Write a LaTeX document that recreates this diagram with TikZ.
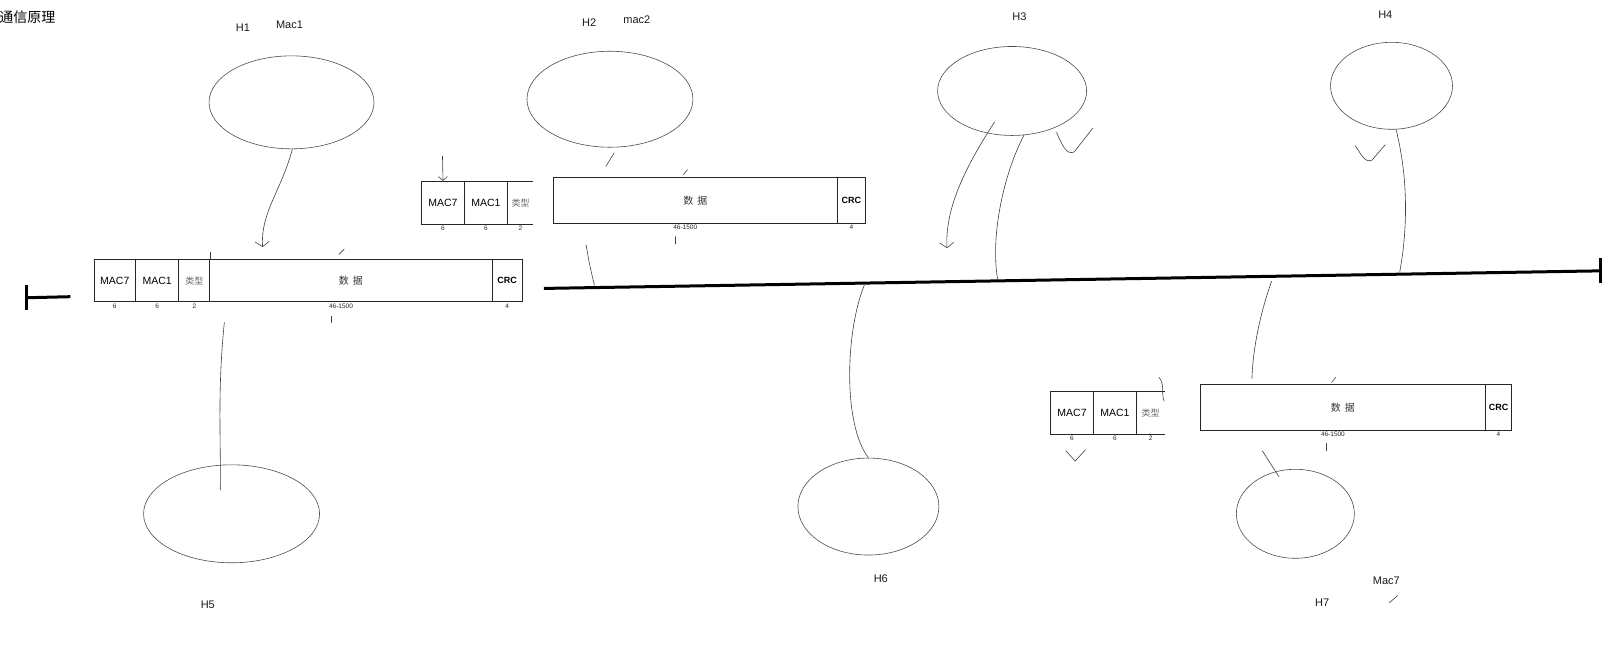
\documentclass[tikz,border=0pt]{standalone}
\usepackage{fontspec}
\setmainfont{Liberation Sans}
\newfontfamily\cjk{Noto Sans CJK SC}
\usetikzlibrary{positioning, arrows.meta, shapes.geometric}

\begin{document}
\begin{tikzpicture}[
  x=1.034pt, y=-1.034pt,
  host/.style={draw=black!70, line width=0.6pt, ellipse, inner sep=0pt},
  hand/.style={draw=black!75, line width=0.6pt, line cap=round},
  barb/.style={-{Straight Barb[length=5pt, width=14pt]}},
  field/.style={draw=black!85, line width=0.8pt, inner sep=0pt, outer sep=0pt,
    font=\fontsize{10.5}{12}\selectfont, text=black},
  typefield/.style={field, font=\cjk\fontsize{9}{10}\selectfont, text=black!60},
  datafield/.style={field, font=\cjk\fontsize{10}{11}\selectfont, text=black!80},
  crcfield/.style={field, font=\bfseries\fontsize{9}{10}\selectfont},
  size/.style={font=\fontsize{6.5}{7}\selectfont, text=black!85, inner sep=1.5pt},
  lbl/.style={font=\fontsize{11}{13}\selectfont, text=black!90},
  bus/.style={line width=3pt},
]
\useasboundingbox (0,0) rectangle (1568,630);

% 标题
\node[font=\cjk\fontsize{14}{16}\selectfont, anchor=east] (title) at (57,17) {通信原理};

% 主机 H1 ~ H7
\node[host, minimum width=165pt, minimum height=93pt] (H1) at (282,99) {};
\node[host, minimum width=166pt, minimum height=96pt] (H2) at (590,96) {};
\node[host, minimum width=149pt, minimum height=89pt] (H3) at (979,88) {};
\node[host, minimum width=122pt, minimum height=87pt] (H4) at (1346,83) {};
\node[host, minimum width=176pt, minimum height=98pt] (H5) at (224,497) {};
\node[host, minimum width=141pt, minimum height=97pt] (H6) at (840,490) {};
\node[host, minimum width=118pt, minimum height=89pt] (H7) at (1253,497) {};

% 主机标注
\node[lbl] (H1lbl) at (235,27) {H1};
\node[lbl] (mac1lbl) at (280,24) {Mac1};
\node[lbl] (H2lbl) at (570,22) {H2};
\node[lbl] (mac2lbl) at (616,19) {mac2};
\node[lbl] (H3lbl) at (986,16) {H3};
\node[lbl] (H4lbl) at (1340,14) {H4};
\node[lbl] (H5lbl) at (201,585) {H5};
\node[lbl] (H6lbl) at (852,560) {H6};
\node[lbl] (H7lbl) at (1279,583) {H7};
\node[lbl] (mac7lbl) at (1341,562) {Mac7};

% 总线
\coordinate (BusL) at (526,279);
\coordinate (BusR) at (1548,262);
\draw[bus] (BusL) -- (BusR);
\draw[bus] (1548,250) -- (1548,274);
\coordinate (StubL) at (26,288);
\coordinate (StubR) at (68,287);
\draw[bus] (StubR) -- (StubL);
\draw[bus] (26,276) -- (26,300);

% 帧 1（左，总线上）
\node[field, minimum width=41.4pt, minimum height=42.4pt, anchor=north west,
  label={[size]below:6}] (F1mac7) at (91,251) {MAC7};
\node[field, minimum width=43.4pt, minimum height=42.4pt, right=0pt of F1mac7,
  label={[size]below:6}] (F1mac1) {MAC1};
\node[typefield, minimum width=31pt, minimum height=42.4pt, right=0pt of F1mac1,
  label={[size]below:2}] (F1type) {类型};
\node[datafield, minimum width=282.3pt, minimum height=42.4pt, right=0pt of F1type,
  label={[size, xshift=-10pt]below:46-1500}] (F1data) {数\hspace{4pt}据};
\node[crcfield, minimum width=30pt, minimum height=42.4pt, right=0pt of F1data,
  label={[size]below:4}] (F1crc) {CRC};
\draw[hand] (F1type.north east) -- ++(0,-7);
\draw[hand] (328,246) -- (333,241);
\draw[hand] (320,306) -- (320,312);

% 帧 2（上方，H2 附近）
\node[field, minimum width=42.4pt, minimum height=43.4pt, anchor=north west,
  label={[size]below:6}] (F2mac7) at (408,175) {MAC7};
\node[field, minimum width=43.4pt, minimum height=43.4pt, right=0pt of F2mac7,
  label={[size]below:6}] (F2mac1) {MAC1};
\node[typefield, draw=none, minimum width=25.9pt, minimum height=43.4pt, right=0pt of F2mac1,
  label={[size]below:2}] (F2type) {类型};
\draw[field] (F2type.north west) -- (F2type.north east)
  (F2type.south west) -- (F2type.south east);
\node[datafield, minimum width=284.4pt, minimum height=45.5pt, anchor=north west,
  label={[size, xshift=-10pt]below:46-1500}] (F2data) at (535,172) {数\hspace{4pt}据};
\node[crcfield, minimum width=27.9pt, minimum height=45.5pt, right=0pt of F2data,
  label={[size]below:4}] (F2crc) {CRC};
\draw[hand, -{Straight Barb[length=4pt, width=9pt]}] (428,151) -- (F2mac7.north);
\draw[hand] (661,169) -- (665,164);
\draw[hand] (653,229) -- (653,236);

% 帧 3（右下，H7 附近）
\node[field, minimum width=43.4pt, minimum height=42.4pt, anchor=north west,
  label={[size]below:6}] (F3mac7) at (1016,379) {MAC7};
\node[field, minimum width=42.4pt, minimum height=42.4pt, right=0pt of F3mac7,
  label={[size]below:6}] (F3mac1) {MAC1};
\node[typefield, draw=none, minimum width=29pt, minimum height=42.4pt, right=0pt of F3mac1,
  label={[size]below:2}] (F3type) {类型};
\draw[field] (F3type.north west) -- (F3type.north east)
  (F3type.south west) -- (F3type.south east);
\node[datafield, minimum width=285.4pt, minimum height=45.5pt, anchor=north west,
  label={[size, xshift=-10pt]below:46-1500}] (F3data) at (1161,372) {数\hspace{4pt}据};
\node[crcfield, minimum width=25.9pt, minimum height=45.5pt, right=0pt of F3data,
  label={[size]below:4}] (F3crc) {CRC};
\draw[hand] (1031,436) -- (1040,446) -- (1050,435);
\draw[hand] (1121,365) .. controls (1127,372) and (1123,380) .. (1126,388);
\draw[hand] (1288,370) -- (1292,365);
\draw[hand] (1283,429) -- (1283,436);

% H1 发送：箭头指向帧 1
\coordinate (A1) at (254,239);
\draw[hand, barb] (H1.-89) .. controls (272,185) and (252,205) .. (A1);

% H2 接入
\draw[hand] (586,161) -- (594,148);
\coordinate (U2) at (567,237);
\coordinate (B2) at (575,276);
\draw[hand] (U2) .. controls (570,255) .. (B2);

% H3 接入与接收
\coordinate (H3in) at (962,118);
\coordinate (A3) at (916,240);
\draw[hand, barb] (H3in) .. controls (935,160) and (914,200) .. (A3);
\coordinate (B3) at (965,270);
\draw[hand] (H3.-75) .. controls (970,170) and (958,230) .. (B3);
\draw[hand] (1022,128) .. controls (1028,142) and (1032,150) .. (1039,147) -- (1057,124);

% H4 接入
\coordinate (B4) at (1354,263);
\draw[hand] (H4.-84) .. controls (1364,180) and (1360,230) .. (B4);
\draw[hand] (1311,141) .. controls (1316,148) and (1320,158) .. (1327,155) -- (1340,140);

% H5 接入
\coordinate (U5) at (217,312);
\coordinate (E5) at (213,474);
\draw[hand] (U5) .. controls (210,380) and (214,430) .. (E5);

% H6 接入
\coordinate (B6) at (836,276);
\draw[hand] (B6) .. controls (818,320) and (815,410) .. (H6.north);

% H7 接入
\coordinate (B7) at (1230,272);
\coordinate (U7) at (1211,366);
\draw[hand] (B7) .. controls (1220,300) and (1212,335) .. (U7);
\draw[hand] (1221,436) -- (1237,461);
\draw[hand] (1344,583) -- (1352,576);

\end{tikzpicture}
\end{document}
